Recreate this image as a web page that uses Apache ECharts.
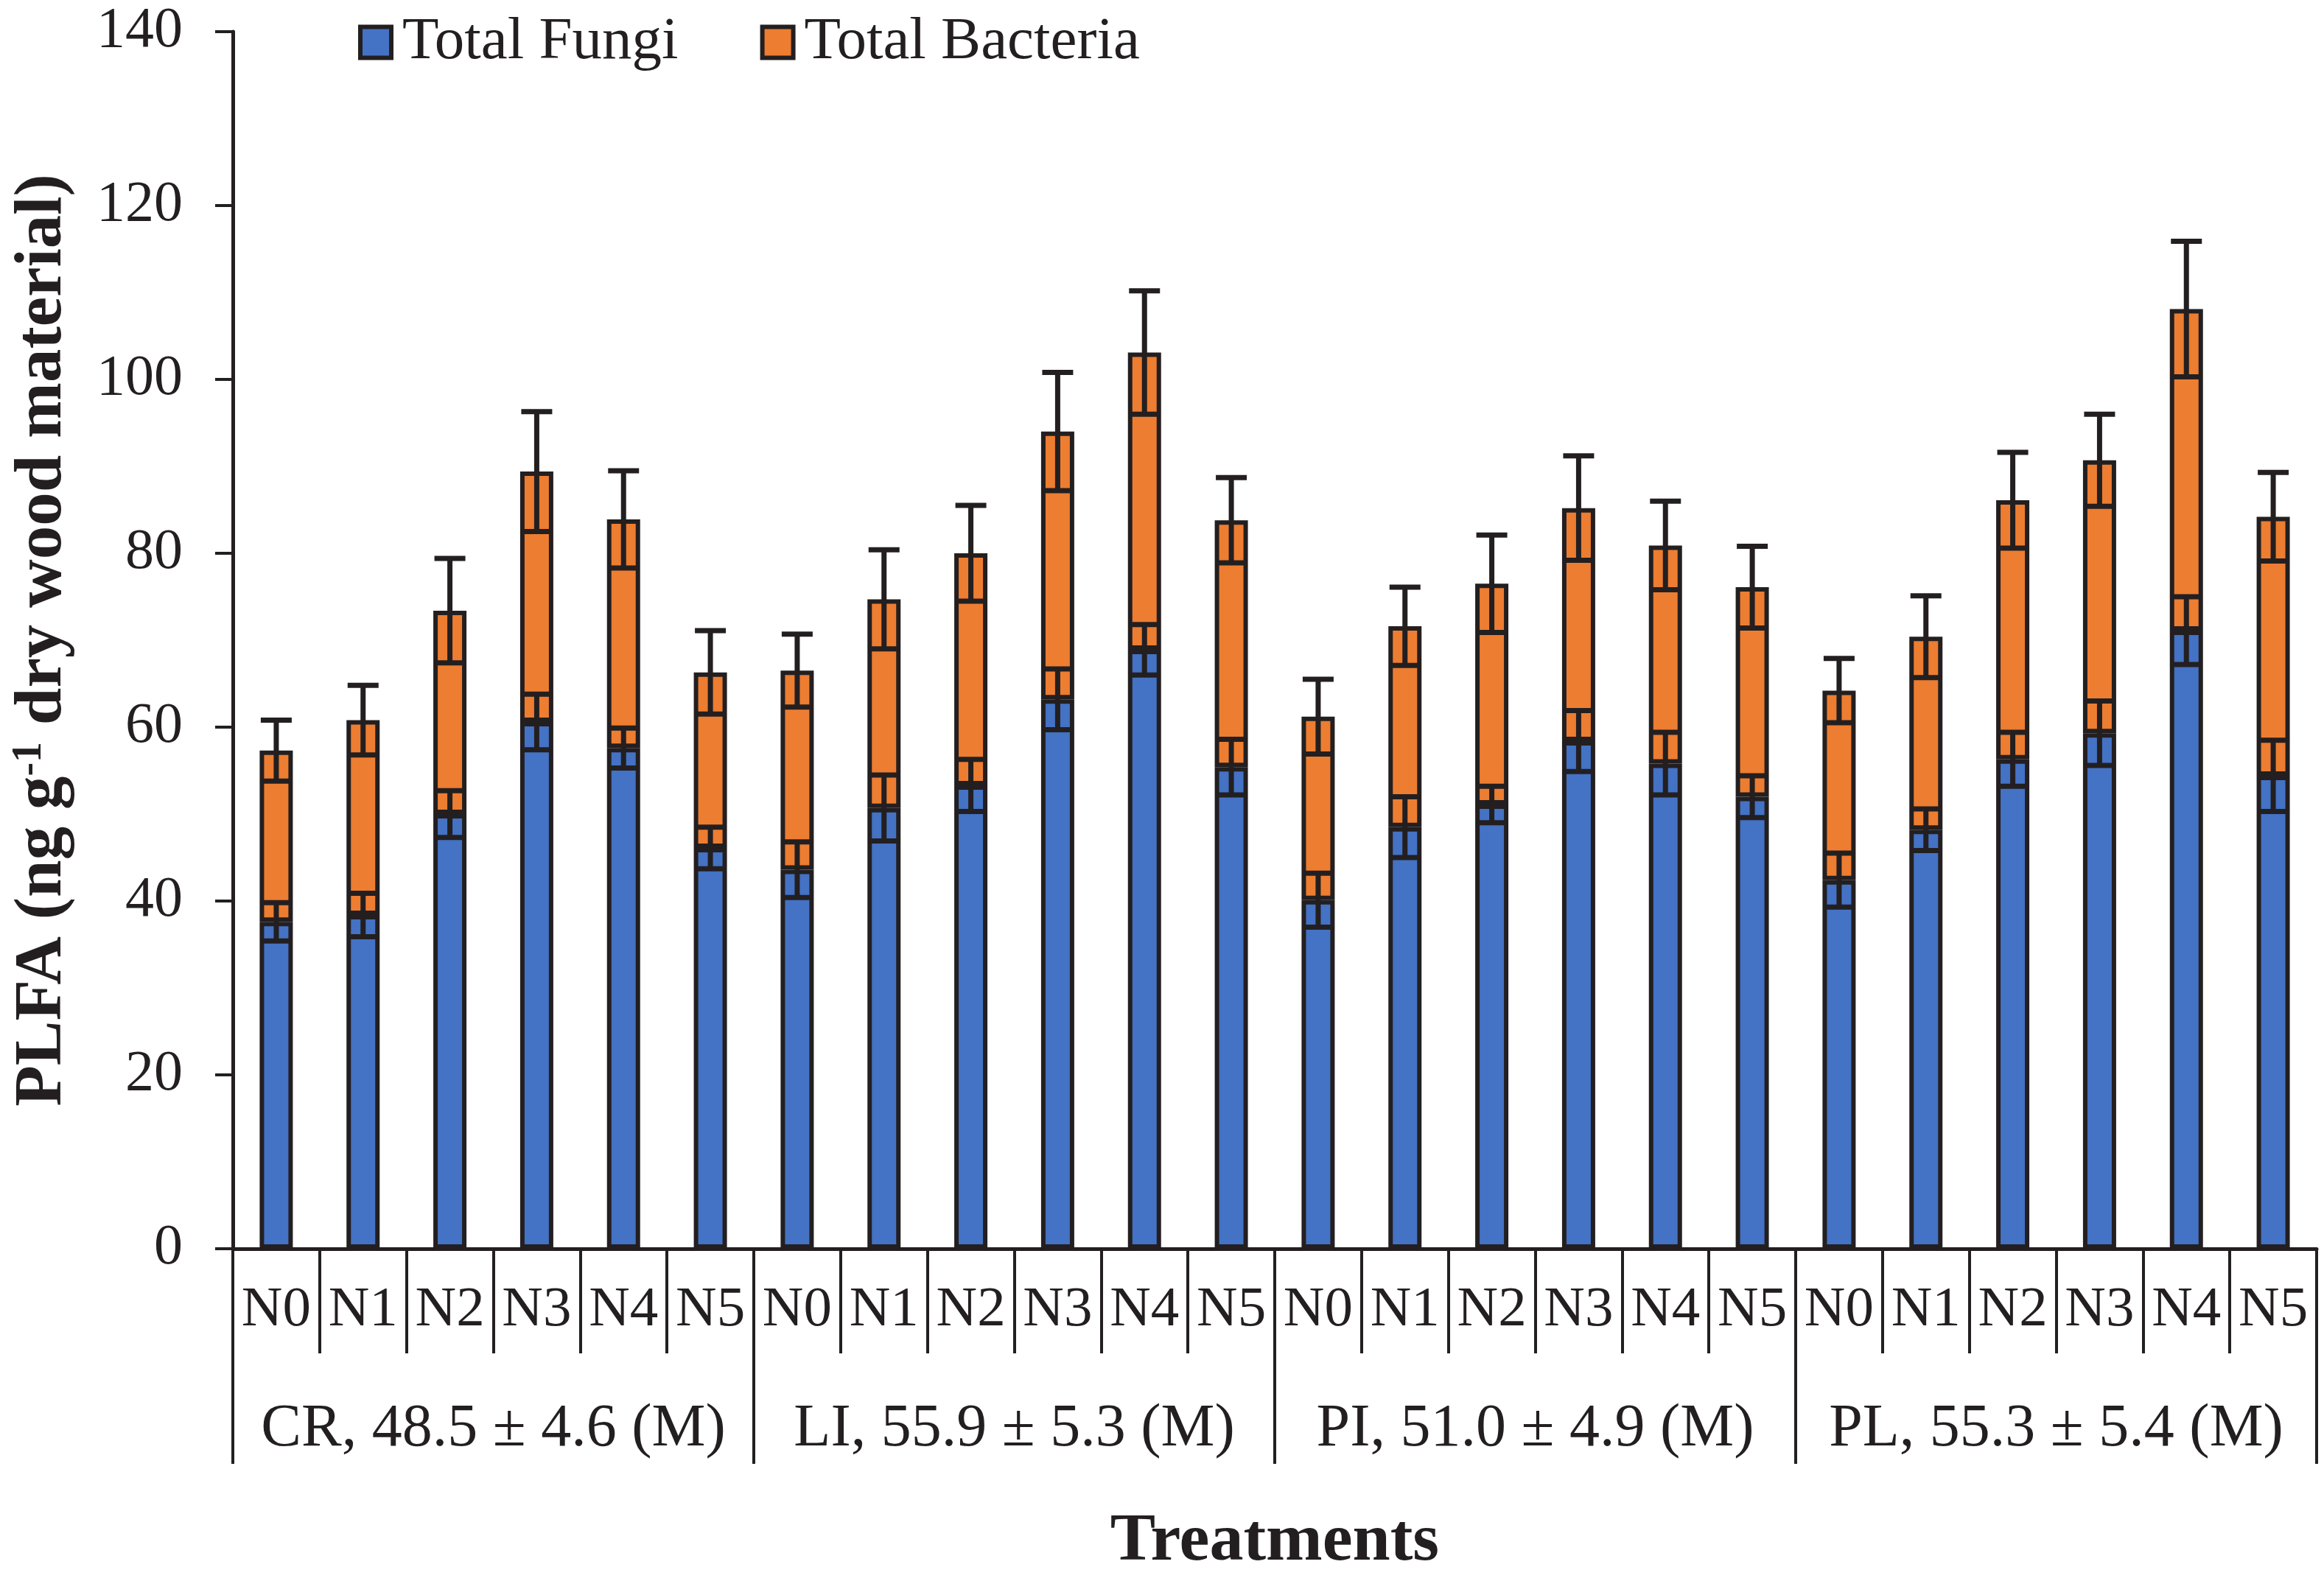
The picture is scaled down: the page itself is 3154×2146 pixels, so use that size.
<!DOCTYPE html>
<html lang="en">
<head>
    <meta charset="UTF-8">
    <script src="https://cdn.jsdelivr.net/npm/echarts@6/dist/echarts.min.js"></script>
    <title>PLFA</title>
    <style>
        html, body { margin: 0; padding: 0; background: #fff; }
    </style>
</head>
<body>
<div id="main" style="width: 3154px;height:2146px;"></div>
<script type="text/javascript">
    var myChart = echarts.init(document.getElementById('main'));

    // treatment levels (repeated for each material) and material groups
    var levels = ['N0', 'N1', 'N2', 'N3', 'N4', 'N5'];
    var groups = ['CR, 48.5 ± 4.6 (M)', 'LI, 55.9 ± 5.3 (M)', 'PI, 51.0 ± 4.9 (M)', 'PL, 55.3 ± 5.4 (M)'];

    // values, CR | LI | PI | PL
    var fungi = [
        37.6, 38.4, 50.0, 60.6, 57.6, 46.1,
        43.6, 50.7, 53.3, 63.2, 68.9, 55.4,
        40.1, 48.5, 51.1, 58.4, 55.8, 52.0,
        42.4, 48.2, 56.3, 59.3, 71.1, 54.4
    ];
    var bacteria = [
        19.7, 22.4, 23.4, 28.8, 26.3, 20.2,
        22.9, 24.0, 26.7, 30.8, 34.2, 28.4,
        21.1, 23.1, 25.4, 26.8, 25.1, 24.1,
        21.8, 22.2, 29.8, 31.4, 37.0, 29.8
    ];
    // error bars: fungi (at fungi top) and total (at stack top)
    var fungiErr = [
        2.2, 2.5, 2.7, 3.2, 2.3, 2.4,
        3.2, 3.8, 3.0, 3.5, 2.9, 3.2,
        3.1, 3.5, 2.1, 3.5, 3.6, 2.4,
        3.1, 2.4, 3.1, 3.7, 3.9, 4.1
    ];
    var totalErr = [
        3.5, 4.0, 6.0, 6.9, 5.6, 4.8,
        4.2, 5.7, 5.5, 6.8, 7.1, 4.9,
        4.3, 4.5, 5.6, 6.0, 5.1, 4.7,
        3.7, 4.7, 5.5, 5.3, 7.8, 5.1
    ];
    var yTicks = { min: 0, max: 140, interval: 20 };

    var ink = '#231f20';
    var font = 'Liberation Serif';
    var capWidth = 42;

    var categories = [];
    groups.forEach(function () {
        levels.forEach(function (l) { categories.push(l); });
    });

    var fungiErrData = fungi.map(function (v, i) { return [i, v, fungiErr[i]]; });
    var totalErrData = fungi.map(function (v, i) { return [i, v + bacteria[i], totalErr[i]]; });

    function renderErr(params, api) {
        var x = api.value(0), v = api.value(1), e = api.value(2);
        var top = api.coord([x, v + e]);
        var bot = api.coord([x, v - e]);
        var h = capWidth / 2;
        var st = { stroke: ink, lineWidth: 7 };
        return {
            type: 'group',
            children: [
                { type: 'line', shape: { x1: top[0], y1: top[1], x2: bot[0], y2: bot[1] }, style: st },
                { type: 'line', shape: { x1: top[0] - h, y1: top[1], x2: top[0] + h, y2: top[1] }, style: st },
                { type: 'line', shape: { x1: bot[0] - h, y1: bot[1], x2: bot[0] + h, y2: bot[1] }, style: st }
            ]
        };
    }

    var option = {
        backgroundColor: '#fff',
        animation: false,
        textStyle: { fontFamily: font, color: ink },
        legend: {
            data: ['Total Fungi', 'Total Bacteria'],
            left: 481,
            top: 12,
            icon: 'rect',
            itemWidth: 42,
            itemHeight: 42,
            itemGap: 111,
            itemStyle: { borderColor: ink, borderWidth: 6 },
            textStyle: { fontFamily: font, fontSize: 81, color: ink, padding: [0, 0, 0, 10] }
        },
        grid: {
            left: 316,
            right: 10,
            top: 43,
            bottom: 451,
            containLabel: false,
            outerBoundsMode: 'none'
        },
        xAxis: [{
            type: 'category',
            data: categories,
            position: 'bottom',
            axisLine: { show: true, lineStyle: { color: ink, width: 5 } },
            axisTick: { show: true, length: 142, interval: 0, lineStyle: { color: ink, width: 4 } },
            axisLabel: { interval: 0, margin: 45, fontSize: 77, fontFamily: font, color: ink }
        }, {
            type: 'category',
            data: groups,
            position: 'bottom',
            axisLine: { show: false },
            axisTick: { show: true, length: 292, interval: 0, lineStyle: { color: ink, width: 4 } },
            axisLabel: { interval: 0, margin: 204, fontSize: 82, fontFamily: font, color: ink },
            name: 'Treatments',
            nameLocation: 'middle',
            nameGap: 352,
            nameTextStyle: { fontSize: 92, fontWeight: 'bold', fontFamily: font, color: ink }
        }],
        yAxis: {
            type: 'value',
            min: yTicks.min,
            max: yTicks.max,
            interval: yTicks.interval,
            splitLine: { show: false },
            axisLine: { show: true, lineStyle: { color: ink, width: 5 } },
            axisTick: { show: true, length: 24, lineStyle: { color: ink, width: 4 } },
            axisLabel: { margin: 68, fontSize: 78, fontFamily: font, color: ink },
            name: 'PLFA (ng g{sup|-1} dry wood material)',
            nameLocation: 'middle',
            nameRotate: 90,
            nameGap: 212,
            nameTextStyle: {
                fontSize: 91, fontWeight: 'bold', fontFamily: font, color: ink,
                rich: {
                    sup: { fontSize: 56, fontWeight: 'bold', fontFamily: font, color: ink, verticalAlign: 'top', padding: [0, 0, 30, 0] }
                }
            }
        },
        series: [{
            name: 'Total Fungi',
            type: 'bar',
            stack: 'plfa',
            barWidth: 45,
            itemStyle: { color: '#4472c4', borderColor: ink, borderWidth: 6 },
            data: fungi
        }, {
            name: 'Total Bacteria',
            type: 'bar',
            stack: 'plfa',
            barWidth: 45,
            itemStyle: { color: '#ed7d31', borderColor: ink, borderWidth: 6 },
            data: bacteria
        }, {
            type: 'custom',
            renderItem: renderErr,
            encode: { x: 0, y: 1 },
            z: 10,
            data: fungiErrData
        }, {
            type: 'custom',
            renderItem: renderErr,
            encode: { x: 0, y: 1 },
            z: 10,
            data: totalErrData
        }]
    };

    myChart.setOption(option);
</script>
</body>
</html>
